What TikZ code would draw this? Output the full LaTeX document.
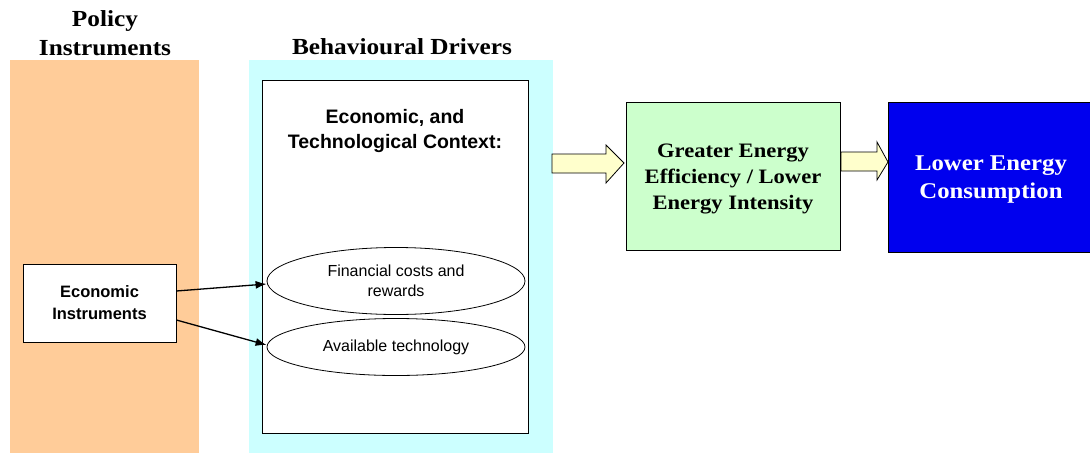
\documentclass[tikz,border=0pt]{standalone}
\usepackage{fontspec}
\setmainfont{Liberation Serif}[FakeStretch=1.1]
\setsansfont{Liberation Sans}
\usetikzlibrary{shapes.geometric,arrows.meta}
\definecolor{orangebg}{HTML}{FFCC99}
\definecolor{cyanbg}{HTML}{CCFFFF}
\definecolor{greenbox}{HTML}{CCFFCC}
\definecolor{bluebox}{HTML}{0000EE}
\definecolor{arrowfill}{HTML}{FFFFCC}
\tikzset{
  px/.style={x=1pt,y=-1pt},
  heading/.style={font=\fontsize{23}{29}\selectfont\bfseries, align=center, inner sep=0pt},
  ovalbox/.style={ellipse, draw, thick, minimum width=258pt, inner sep=0pt, align=center, font=\sffamily\fontsize{16}{20}\selectfont},
  fatarrow/.style={draw, fill=arrowfill, line width=0.8pt, line join=miter},
  link/.style={-{Latex[length=11pt,width=8pt]}, line width=1.3pt}
}
\begin{document}
\begin{tikzpicture}[px]
\useasboundingbox (0,0) rectangle (1090,453);
\fill[orangebg] (10,60) rectangle (199,453);
\fill[cyanbg] (249,60) rectangle (553,453);
\node[heading] (hpol) at (105,33) {Policy\\Instruments};
\node[heading] (hbeh) at (402,47) {Behavioural Drivers};
\node[draw, thick, fill=white, minimum width=266pt, minimum height=353pt, anchor=north west, inner sep=0pt] (ctx) at (262,80) {};
\node[font=\sffamily\bfseries\fontsize{19.5}{25}\selectfont, align=center] (ctxt) at (395,131) {Economic, and\\Technological Context:};
\node[ovalbox, minimum height=67pt] (fin) at (396,281) {Financial costs and\\rewards};
\node[ovalbox, minimum height=57pt] (tech) at (396,347) {Available technology};
\node[draw, thick, fill=white, minimum width=153pt, minimum height=78pt, align=center, font=\sffamily\bfseries\fontsize{16.5}{22}\selectfont] (eco) at (99.5,303) {Economic\\Instruments};
\draw[link] (eco.east |- 0,291) -- (fin.west |- 0,284);
\draw[link] (eco.east |- 0,320) -- (tech.west |- 0,345);
\node[draw, fill=greenbox, minimum width=214pt, minimum height=148pt] (green) at (733,176) {};
\node[align=center, font=\fontsize{20.5}{26}\selectfont\bfseries] (greent) at (733,179) {Greater Energy\\Efficiency / Lower\\Energy Intensity};
\node[draw, fill=bluebox, minimum width=202pt, minimum height=150pt] (blue) at (989,177) {};
\node[text=white, align=center, font=\fontsize{22.5}{28}\selectfont\bfseries] (bluet) at (991,180) {Lower Energy\\Consumption};
\draw[fatarrow] (552,154) -- (606,154) -- (606,145) -- (624,163) -- (606,183) -- (606,173) -- (552,173) -- cycle;
\draw[fatarrow] (841,152) -- (877,152) -- (877,142) -- (888,162) -- (877,180) -- (877,171) -- (841,171) -- cycle;
\end{tikzpicture}
\end{document}
